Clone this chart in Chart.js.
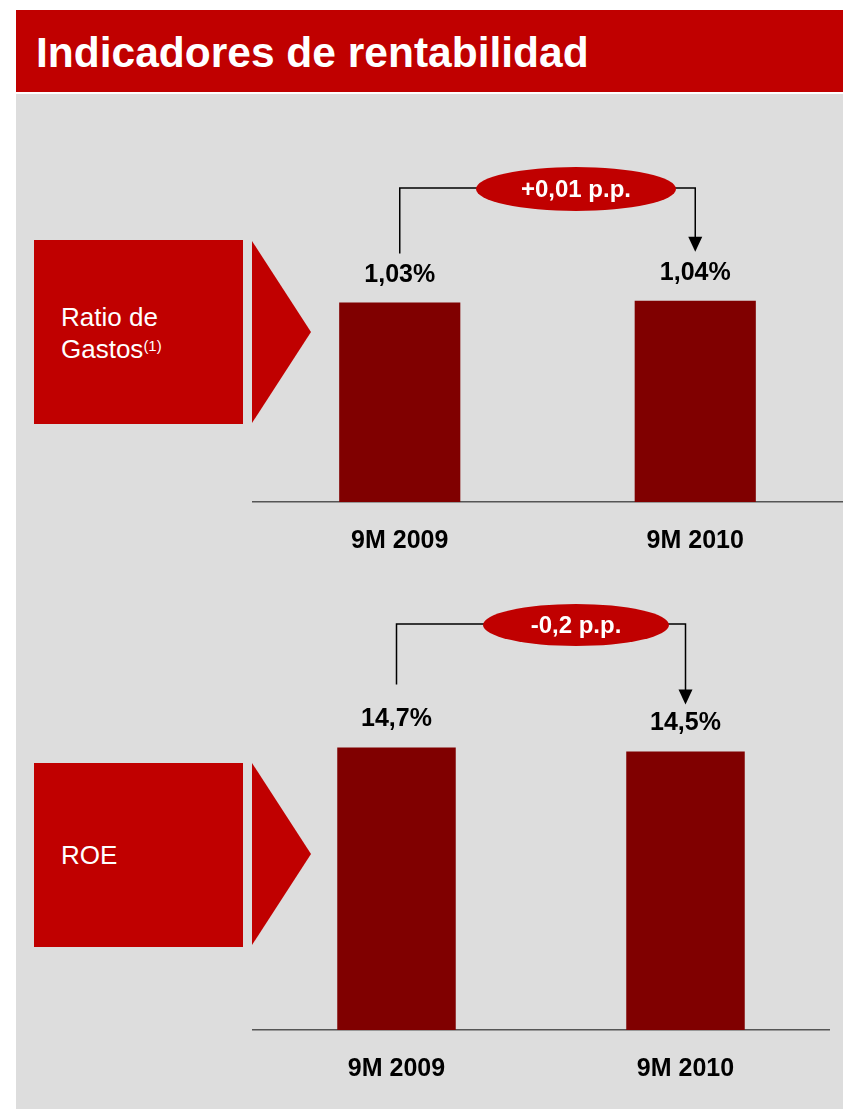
<!DOCTYPE html>
<html>
<head>
<meta charset="utf-8">
<script src="https://cdn.jsdelivr.net/npm/chart.js@4.4.0/dist/chart.umd.min.js"></script>
<style>
  body { margin: 0; background: #fff; width: 843px; height: 1109px; position: relative; overflow: hidden;
         font-family: "Liberation Sans", Arial, sans-serif; }
  #title { position: absolute; left: 16px; top: 10px; width: 827px; height: 82px; background: #c00000; }
  #title span { position: absolute; left: 20px; top: 22px; color: #fff; font-weight: bold; font-size: 42.5px; line-height: 42px; white-space: nowrap; }
  #panel { position: absolute; left: 16px; top: 94px; width: 827px; height: 1015px; background: #dddddd; }
  .box { position: absolute; left: 34px; width: 209px; height: 184px; background: #c00000; color: #fff;
         font-size: 26px; line-height: 32px; box-sizing: border-box; padding-left: 27px; }
  .box sup { font-size: 15px; vertical-align: 7px; line-height: 0; }
  .tri { position: absolute; left: 252px; width: 0; height: 0; border-left: 59px solid #c00000;
         border-top: 91px solid transparent; border-bottom: 91px solid transparent; }
  canvas { position: absolute; }
</style>
</head>
<body>
<div id="title"><span>Indicadores de rentabilidad</span></div>
<div id="panel"></div>

<div class="box" style="top:240px; padding-top:61px;">Ratio de<br>Gastos<sup>(1)</sup></div>
<div class="tri" style="top:241px;"></div>
<div class="box" style="top:763px; padding-top:76px;">ROE</div>
<div class="tri" style="top:763px;"></div>

<canvas id="gastosChart" width="591" height="450" style="left:252px; top:140px;"></canvas>
<canvas id="roeChart" width="578" height="528" style="left:252px; top:590px;"></canvas>

<script>
const categories = ['9M 2009', '9M 2010'];
const ratioGastos = [1.03, 1.04];
const roe = [14.7, 14.5];

Chart.defaults.font.family = '"Liberation Sans", Arial, sans-serif';

function fmt(v, dec) {
  return v.toFixed(dec).replace('.', ',');
}

// value labels + bracket with the change between both periods
const bracketPlugin = {
  id: 'bracket',
  afterDatasetsDraw(chart, args, opts) {
    const ctx = chart.ctx;
    const bars = chart.getDatasetMeta(0).data;
    const vals = chart.data.datasets[0].data;
    ctx.save();

    ctx.fillStyle = '#000';
    ctx.font = 'bold 25px "Liberation Sans", Arial, sans-serif';
    ctx.textAlign = 'center';
    ctx.textBaseline = 'middle';
    bars.forEach((b, i) => {
      ctx.fillText(fmt(vals[i], opts.decimals) + '%', b.x, b.y - 28);
    });

    const x1 = bars[0].x, x2 = bars[1].x;
    const tipY = bars[1].y - opts.tipGap;
    ctx.strokeStyle = '#000';
    ctx.lineWidth = 1.5;
    ctx.beginPath();
    ctx.moveTo(x1, bars[0].y - opts.startGap);
    ctx.lineTo(x1, opts.lineY);
    ctx.lineTo(x2, opts.lineY);
    ctx.lineTo(x2, tipY - 14);
    ctx.stroke();

    ctx.fillStyle = '#000';
    ctx.beginPath();
    ctx.moveTo(x2 - 7, tipY - 15);
    ctx.lineTo(x2 + 7, tipY - 15);
    ctx.lineTo(x2, tipY);
    ctx.closePath();
    ctx.fill();

    ctx.fillStyle = '#c00000';
    ctx.beginPath();
    ctx.ellipse(opts.cx, opts.lineY + 1, opts.rx, opts.ry, 0, 0, Math.PI * 2);
    ctx.fill();

    const diff = vals[1] - vals[0];
    const txt = (diff >= 0 ? '+' : '-') + fmt(Math.abs(diff), opts.decimals) + ' p.p.';
    ctx.fillStyle = '#fff';
    ctx.font = 'bold 24px "Liberation Sans", Arial, sans-serif';
    ctx.fillText(txt, opts.cx, opts.lineY + 2);
    ctx.restore();
  }
};

function makeChart(el, values, yMax, bracket) {
  return new Chart(el, {
    type: 'bar',
    data: {
      labels: categories,
      datasets: [{
        data: values,
        backgroundColor: '#800000',
        categoryPercentage: 1,
        barPercentage: 0.41
      }]
    },
    options: {
      responsive: false,
      animation: false,
      layout: { padding: { top: 0, bottom: 10, left: 0, right: 0 } },
      plugins: {
        legend: { display: false },
        tooltip: { enabled: false },
        bracket: bracket
      },
      scales: {
        x: {
          grid: { display: false, drawTicks: false },
          border: { display: true, color: '#555', width: 1.5 },
          ticks: { color: '#000', font: { size: 25, weight: 'bold' }, padding: 24 }
        },
        y: { display: false, min: 0, max: yMax }
      }
    },
    plugins: [bracketPlugin]
  });
}

makeChart(document.getElementById('gastosChart'), ratioGastos, 1.87,
  { decimals: 2, lineY: 48, startGap: 49, tipGap: 49, cx: 324, rx: 100, ry: 22 });

makeChart(document.getElementById('roeChart'), roe, 22.9,
  { decimals: 1, lineY: 34, startGap: 63, tipGap: 47, cx: 324, rx: 93, ry: 21 });
</script>
</body>
</html>
